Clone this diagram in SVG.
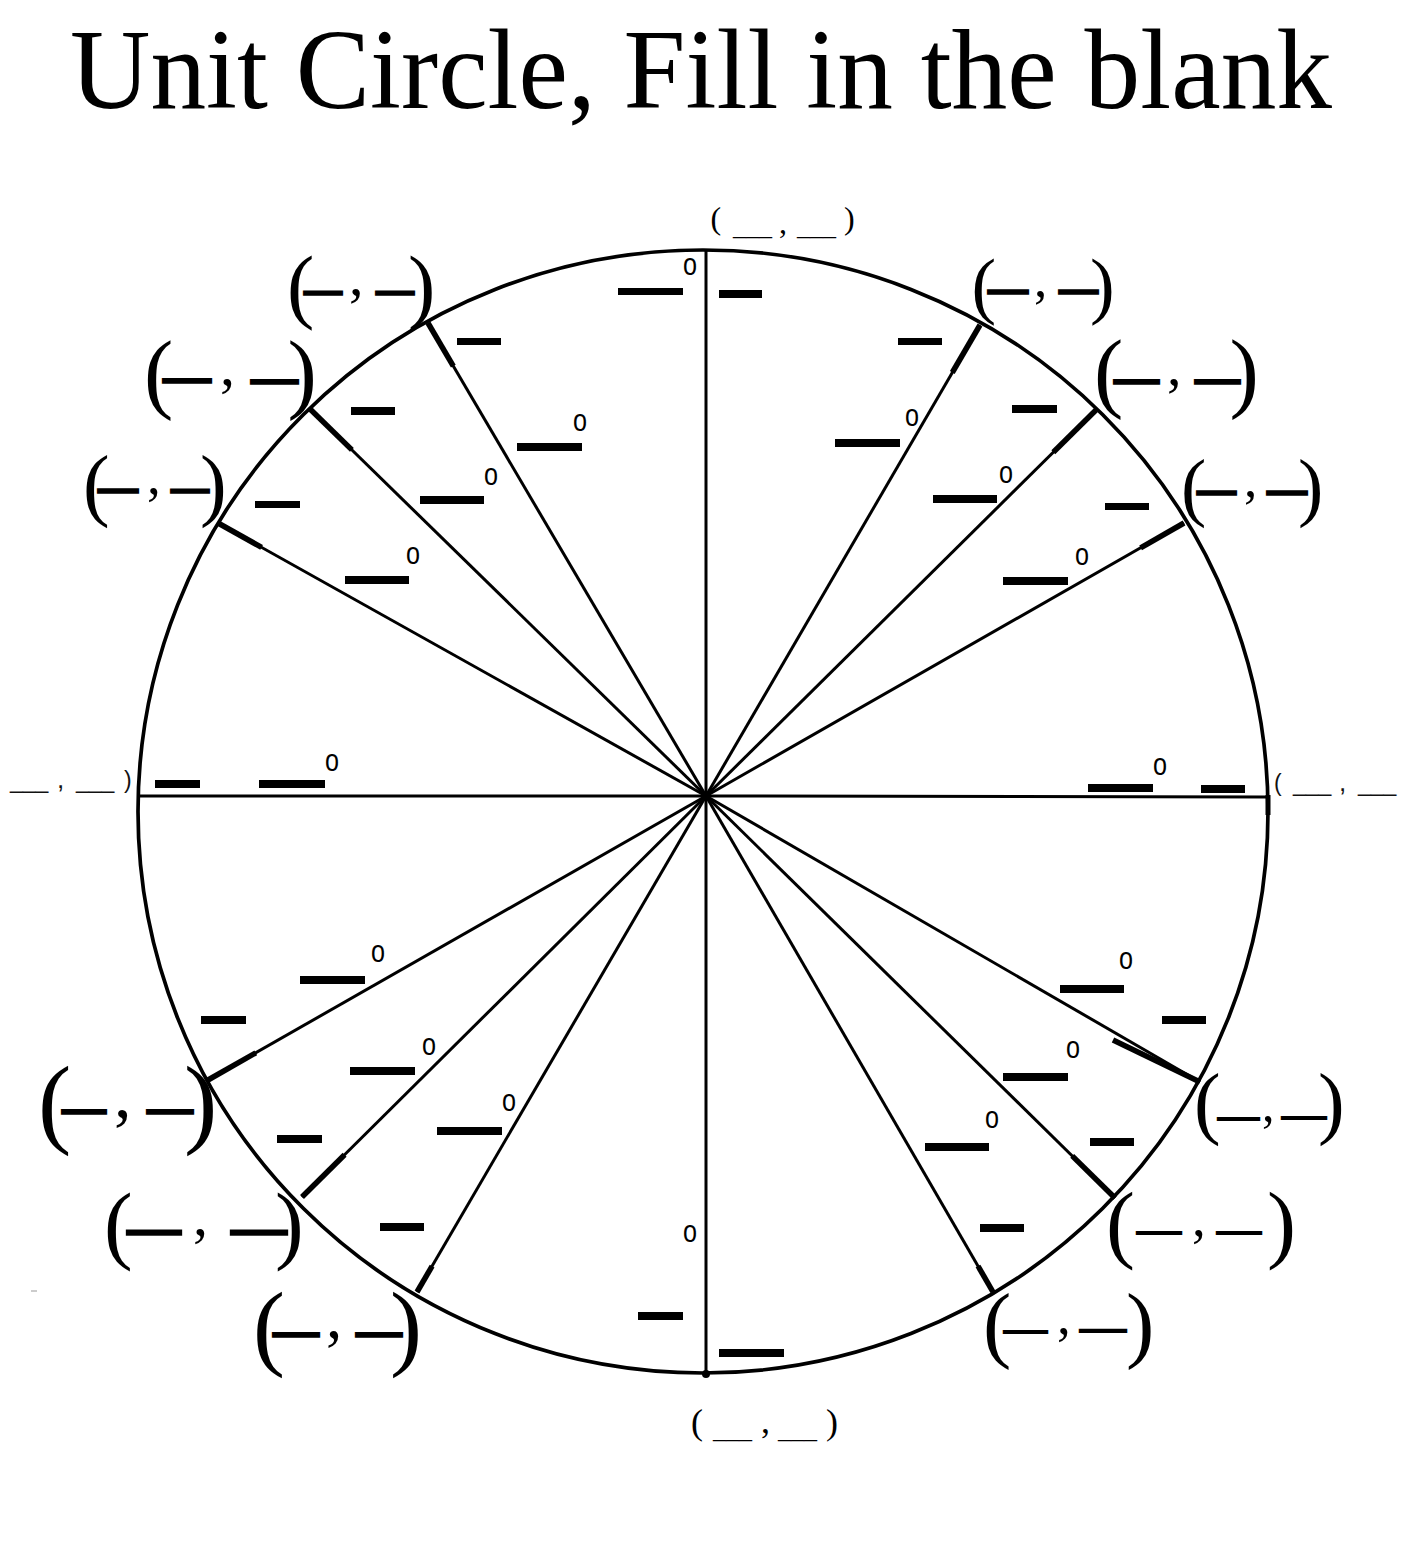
<svg xmlns="http://www.w3.org/2000/svg" width="1404" height="1550" viewBox="0 0 1404 1550">
<style>
.serif{font-family:"Liberation Serif","Times New Roman",serif;fill:#000}
.sans{font-family:"Liberation Sans",Arial,sans-serif;fill:#111}
.deg{font-family:"Liberation Sans",Arial,sans-serif;font-size:31px;fill:#000}
.ray{stroke:#000;stroke-width:3;fill:none}
.rayk{stroke:#000;stroke-width:5.5;fill:none}
.blank{fill:#000}
.dk{stroke:#000;stroke-width:3.6}
.dt{stroke:#000;stroke-width:1.8}
</style>
<rect x="0" y="0" width="1404" height="1550" fill="#fff"/>
<g id="title">
<text class="serif" x="70" y="108" font-size="114" textLength="1262" lengthAdjust="spacingAndGlyphs">Unit Circle, Fill in the blank</text>
</g>
<g id="circle">
<ellipse cx="703" cy="811.5" rx="565" ry="561.5" fill="none" stroke="#000" stroke-width="3.7"/>
</g>
<g id="connectors">
<line class="ray" x1="706" y1="796" x2="1268" y2="797"/>
<line class="ray" x1="706" y1="796" x2="1184" y2="523"/>
<line class="ray" x1="706" y1="796" x2="1096" y2="410"/>
<line class="ray" x1="706" y1="796" x2="980" y2="325"/>
<line class="ray" x1="706" y1="796" x2="706" y2="250"/>
<line class="ray" x1="706" y1="796" x2="428" y2="323"/>
<line class="ray" x1="706" y1="796" x2="309" y2="408"/>
<line class="ray" x1="706" y1="796" x2="218" y2="523"/>
<line class="ray" x1="706" y1="796" x2="138" y2="796"/>
<line class="ray" x1="706" y1="796" x2="208" y2="1080"/>
<line class="ray" x1="706" y1="796" x2="302" y2="1197"/>
<line class="ray" x1="706" y1="796" x2="417" y2="1292"/>
<line class="ray" x1="706" y1="796" x2="706" y2="1373"/>
<line class="ray" x1="706" y1="796" x2="993" y2="1292"/>
<line class="ray" x1="706" y1="796" x2="1115" y2="1198"/>
<line class="ray" x1="706" y1="796" x2="1200" y2="1082"/>
<line class="rayk" x1="1140.6" y1="547.8" x2="1184" y2="523"/>
<line class="rayk" x1="1053.3" y1="452.2" x2="1096" y2="410"/>
<line class="rayk" x1="952.3" y1="372.5" x2="980" y2="325"/>
<line class="rayk" x1="453.3" y1="366.1" x2="428" y2="323"/>
<line class="rayk" x1="351.9" y1="449.9" x2="309" y2="408"/>
<line class="rayk" x1="261.6" y1="547.4" x2="218" y2="523"/>
<line class="rayk" x1="255.8" y1="1052.8" x2="208" y2="1080"/>
<line class="rayk" x1="344.6" y1="1154.7" x2="302" y2="1197"/>
<line class="rayk" x1="432.1" y1="1266.1" x2="417" y2="1292"/>
<line class="rayk" x1="978" y1="1266" x2="993" y2="1292"/>
<line class="rayk" x1="1072.2" y1="1155.9" x2="1115" y2="1198"/>
<line class="rayk" x1="1113" y1="1040" x2="1200" y2="1082"/>
<line x1="1268" y1="795" x2="1268" y2="815" stroke="#000" stroke-width="5"/>
<circle cx="706" cy="796" r="4" fill="#000"/>
<circle cx="706" cy="1374" r="4" fill="#000"/>
<line x1="31" y1="1291" x2="37" y2="1291" stroke="#bbb" stroke-width="1.5"/>
</g>
<g id="blanks">
<rect class="blank" x="618" y="288" width="65" height="7"/>
<rect class="blank" x="719" y="290" width="43" height="8"/>
<rect class="blank" x="457" y="338" width="44" height="7"/>
<rect class="blank" x="517" y="443" width="65" height="8"/>
<rect class="blank" x="420" y="496" width="64" height="8"/>
<rect class="blank" x="351" y="407" width="44" height="8"/>
<rect class="blank" x="255" y="501" width="45" height="7"/>
<rect class="blank" x="345" y="576" width="64" height="8"/>
<rect class="blank" x="155" y="780" width="45" height="8"/>
<rect class="blank" x="259" y="780" width="66" height="8"/>
<rect class="blank" x="898" y="338" width="44" height="7"/>
<rect class="blank" x="835" y="439" width="65" height="8"/>
<rect class="blank" x="1012" y="405" width="45" height="8"/>
<rect class="blank" x="933" y="495" width="64" height="8"/>
<rect class="blank" x="1105" y="503" width="44" height="7"/>
<rect class="blank" x="1003" y="577" width="65" height="8"/>
<rect class="blank" x="1088" y="784" width="65" height="8"/>
<rect class="blank" x="1201" y="785" width="44" height="8"/>
<rect class="blank" x="300" y="976" width="65" height="8"/>
<rect class="blank" x="201" y="1016" width="45" height="8"/>
<rect class="blank" x="350" y="1067" width="65" height="8"/>
<rect class="blank" x="277" y="1135" width="45" height="8"/>
<rect class="blank" x="437" y="1127" width="65" height="8"/>
<rect class="blank" x="380" y="1223" width="44" height="8"/>
<rect class="blank" x="1060" y="985" width="64" height="8"/>
<rect class="blank" x="1162" y="1016" width="44" height="8"/>
<rect class="blank" x="1003" y="1073" width="65" height="8"/>
<rect class="blank" x="1090" y="1138" width="44" height="8"/>
<rect class="blank" x="925" y="1143" width="64" height="8"/>
<rect class="blank" x="980" y="1224" width="44" height="8"/>
<rect class="blank" x="638" y="1312" width="45" height="8"/>
<rect class="blank" x="719" y="1349" width="65" height="8"/>
</g>
<g id="degree-marks">
<text class="deg" x="683" y="275" textLength="14" lengthAdjust="spacingAndGlyphs">o</text>
<text class="deg" x="573" y="431" textLength="14" lengthAdjust="spacingAndGlyphs">o</text>
<text class="deg" x="484" y="485" textLength="14" lengthAdjust="spacingAndGlyphs">o</text>
<text class="deg" x="406" y="564" textLength="14" lengthAdjust="spacingAndGlyphs">o</text>
<text class="deg" x="325" y="771" textLength="14" lengthAdjust="spacingAndGlyphs">o</text>
<text class="deg" x="905" y="426" textLength="14" lengthAdjust="spacingAndGlyphs">o</text>
<text class="deg" x="999" y="483" textLength="14" lengthAdjust="spacingAndGlyphs">o</text>
<text class="deg" x="1075" y="565" textLength="14" lengthAdjust="spacingAndGlyphs">o</text>
<text class="deg" x="1153" y="775" textLength="14" lengthAdjust="spacingAndGlyphs">o</text>
<text class="deg" x="371" y="962" textLength="14" lengthAdjust="spacingAndGlyphs">o</text>
<text class="deg" x="422" y="1055" textLength="14" lengthAdjust="spacingAndGlyphs">o</text>
<text class="deg" x="502" y="1111" textLength="14" lengthAdjust="spacingAndGlyphs">o</text>
<text class="deg" x="1119" y="969" textLength="14" lengthAdjust="spacingAndGlyphs">o</text>
<text class="deg" x="1066" y="1058" textLength="14" lengthAdjust="spacingAndGlyphs">o</text>
<text class="deg" x="985" y="1128" textLength="14" lengthAdjust="spacingAndGlyphs">o</text>
<text class="deg" x="683" y="1242" textLength="14" lengthAdjust="spacingAndGlyphs">o</text>
</g>
<g id="point-labels">
<g id="p0"><text class="sans" font-size="23"><tspan x="1274" y="791">(</tspan><tspan x="1293" y="791">___</tspan><tspan x="1339" y="791" font-size="26">,</tspan><tspan x="1358" y="791">___</tspan></text></g>
<g id="p30"><text class="serif"><tspan x="1181" y="511.5" font-size="76">(</tspan><tspan class="dk" x="1198" y="502" font-size="37">—</tspan><tspan x="1244" y="495.5" font-size="53">,</tspan><tspan class="dk" x="1268" y="502" font-size="38">—</tspan><tspan x="1298" y="511.5" font-size="76">)</tspan></text></g>
<g id="p45"><text class="serif"><tspan x="1094" y="401" font-size="88">(</tspan><tspan class="dk" x="1115" y="392" font-size="43">—</tspan><tspan x="1167" y="385" font-size="58">,</tspan><tspan class="dk" x="1196" y="392" font-size="43">—</tspan><tspan x="1229.5" y="401" font-size="88">)</tspan></text></g>
<g id="p60"><text class="serif"><tspan x="971.5" y="310" font-size="74">(</tspan><tspan class="dk" x="989" y="301" font-size="38">—</tspan><tspan x="1034" y="295.5" font-size="53">,</tspan><tspan class="dk" x="1060" y="301" font-size="37">—</tspan><tspan x="1090" y="310" font-size="74">)</tspan></text></g>
<g id="p90"><text class="serif" fill="#222"><tspan x="710.5" y="229" font-size="32">(</tspan><tspan x="733" y="235.4" font-size="26">___</tspan><tspan x="779" y="232.5" font-size="32">,</tspan><tspan x="797" y="235.4" font-size="26">___</tspan><tspan x="844" y="229" font-size="32">)</tspan></text></g>
<g id="p120"><text class="serif"><tspan x="287" y="312.5" font-size="82">(</tspan><tspan class="dk" x="305" y="301.5" font-size="36">—</tspan><tspan x="349" y="295" font-size="58">,</tspan><tspan class="dk" x="377" y="301.5" font-size="36">—</tspan><tspan x="408" y="312.5" font-size="82">)</tspan></text></g>
<g id="p135"><text class="serif"><tspan x="144" y="402" font-size="88">(</tspan><tspan class="dk" x="164" y="392" font-size="46">—</tspan><tspan x="220" y="384.5" font-size="60">,</tspan><tspan class="dk" x="252" y="392" font-size="45">—</tspan><tspan x="287.5" y="402" font-size="88">)</tspan></text></g>
<g id="p150"><text class="serif"><tspan x="83" y="511" font-size="80">(</tspan><tspan class="dk" x="99" y="500" font-size="38">—</tspan><tspan x="147" y="494" font-size="55">,</tspan><tspan class="dk" x="172" y="500" font-size="36">—</tspan><tspan x="200" y="511" font-size="80">)</tspan></text></g>
<g id="p180"><text class="sans" font-size="23"><tspan x="10" y="787.5">___</tspan><tspan x="57" y="787.5" font-size="26">,</tspan><tspan x="76" y="787.5">___</tspan><tspan x="124" y="787.5">)</tspan></text></g>
<g id="p210"><text class="serif"><tspan x="38" y="1135" font-size="100">(</tspan><tspan class="dk" x="63" y="1122" font-size="42">—</tspan><tspan x="114" y="1117" font-size="70">,</tspan><tspan class="dk" x="148" y="1122" font-size="44">—</tspan><tspan x="184" y="1135" font-size="100">)</tspan></text></g>
<g id="p225"><text class="serif"><tspan x="104" y="1253" font-size="86">(</tspan><tspan class="dk" x="128" y="1245" font-size="52">—</tspan><tspan x="193" y="1235" font-size="60">,</tspan><tspan class="dk" x="232" y="1245" font-size="54">—</tspan><tspan x="275" y="1253" font-size="86">)</tspan></text></g>
<g id="p240"><text class="serif"><tspan x="253" y="1358" font-size="96">(</tspan><tspan class="dk" x="274" y="1345" font-size="44">—</tspan><tspan x="326" y="1338" font-size="65">,</tspan><tspan class="dk" x="357" y="1345" font-size="44">—</tspan><tspan x="390" y="1358" font-size="96">)</tspan></text></g>
<g id="p270"><text class="serif" fill="#222"><tspan x="691" y="1433.6" font-size="36">(</tspan><tspan x="713" y="1437.5" font-size="26">___</tspan><tspan x="761" y="1433" font-size="36">,</tspan><tspan x="778" y="1437.5" font-size="26">___</tspan><tspan x="826" y="1433.6" font-size="36">)</tspan></text></g>
<g id="p300"><text class="serif"><tspan x="983" y="1352" font-size="85">(</tspan><tspan class="dt" x="1004" y="1342" font-size="43">—</tspan><tspan x="1057" y="1334" font-size="55">,</tspan><tspan class="dt" x="1080" y="1342" font-size="46">—</tspan><tspan x="1126" y="1352" font-size="85">)</tspan></text></g>
<g id="p315"><text class="serif"><tspan x="1106" y="1252" font-size="87">(</tspan><tspan class="dt" x="1137" y="1243" font-size="44">—</tspan><tspan x="1192" y="1236" font-size="55">,</tspan><tspan class="dt" x="1217" y="1243" font-size="44">—</tspan><tspan x="1267" y="1252" font-size="87">)</tspan></text></g>
<g id="p330"><text class="serif"><tspan x="1194" y="1129" font-size="80">(</tspan><tspan class="dt" x="1218" y="1127.5" font-size="41">—</tspan><tspan x="1262" y="1121" font-size="50">,</tspan><tspan class="dt" x="1282" y="1128" font-size="44">—</tspan><tspan x="1318" y="1129" font-size="80">)</tspan></text></g>
</g>
</svg>
